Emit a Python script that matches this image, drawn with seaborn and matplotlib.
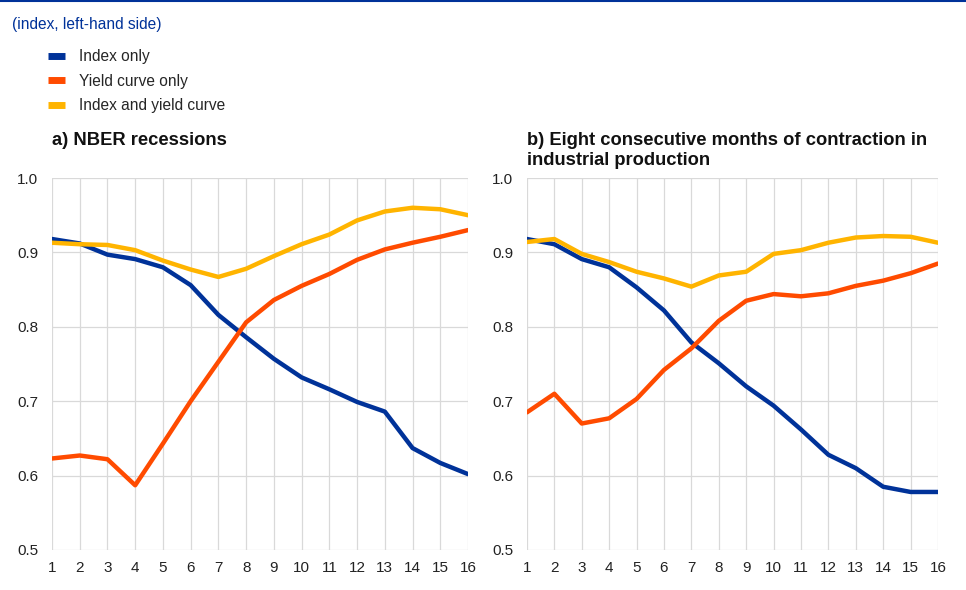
import pandas as pd
import seaborn as sns
from matplotlib import pyplot as plt
from matplotlib.lines import Line2D

''' Données '''
months = list(range(1, 17))
series_names = ["Index only", "Yield curve only", "Index and yield curve"]
colors = ["#003299", "#ff4b00", "#ffb400"]

nber_index = [0.918, 0.912, 0.897, 0.891, 0.880, 0.856, 0.816, 0.786, 0.757, 0.732, 0.716, 0.699, 0.686, 0.637, 0.617, 0.602]
nber_yield = [0.623, 0.627, 0.622, 0.587, 0.643, 0.700, 0.753, 0.806, 0.836, 0.855, 0.871, 0.890, 0.904, 0.913, 0.921, 0.930]
nber_both = [0.913, 0.911, 0.910, 0.903, 0.889, 0.877, 0.867, 0.878, 0.895, 0.911, 0.924, 0.943, 0.955, 0.960, 0.958, 0.950]

ip_index = [0.918, 0.911, 0.891, 0.880, 0.853, 0.822, 0.779, 0.751, 0.720, 0.694, 0.662, 0.628, 0.610, 0.585, 0.578, 0.578]
ip_yield = [0.685, 0.710, 0.670, 0.677, 0.703, 0.742, 0.771, 0.808, 0.835, 0.844, 0.841, 0.845, 0.855, 0.862, 0.872, 0.885]
ip_both = [0.914, 0.918, 0.898, 0.887, 0.874, 0.865, 0.854, 0.869, 0.874, 0.898, 0.903, 0.913, 0.920, 0.922, 0.921, 0.913]

panel_titles = ["a) NBER recessions",
                "b) Eight consecutive months of contraction in\nindustrial production"]
y_ticks = [0.5, 0.6, 0.7, 0.8, 0.9, 1.0]


def long_frame(values):
    rows = []
    for name, vals in zip(series_names, values):
        for m, v in zip(months, vals):
            rows.append({"month": m, "value": v, "series": name})
    return pd.DataFrame(rows)


panels = [long_frame([nber_index, nber_yield, nber_both]),
          long_frame([ip_index, ip_yield, ip_both])]

sns.set_style("white")
plt.rcParams['font.family'] = ['Liberation Sans', 'DejaVu Sans']

fig = plt.figure(figsize=(9.66, 5.90), dpi=100)
ax_left = fig.add_axes([0.0538, 0.0678, 0.4307, 0.6305])
ax_right = fig.add_axes([0.5455, 0.0678, 0.4255, 0.6305])

palette = dict(zip(series_names, colors))

for ax, df, title in zip([ax_left, ax_right], panels, panel_titles):
    sns.lineplot(data=df, x="month", y="value", hue="series", palette=palette,
                 hue_order=series_names, linewidth=3.2, ax=ax, legend=False, zorder=3)
    ax.set_xlim(1, 16)
    ax.set_ylim(0.5, 1.0)
    ax.set_xticks(months)
    ax.set_yticks(y_ticks)
    ax.set_yticklabels([f"{t:.1f}" for t in y_ticks])
    ax.grid(True, color="#d9d9d9", linewidth=0.9)
    for s in ax.spines.values():
        s.set_visible(False)
    ax.tick_params(axis="both", length=0, labelsize=11, colors="#222222")
    ax.tick_params(axis="y", pad=10)
    ax.tick_params(axis="x", pad=8)
    ax.set_xlabel("")
    ax.set_ylabel("")
    # titre ancré par le haut, comme dans l'original
    x0 = ax.get_position().x0
    fig.text(x0, 0.7755, title, fontsize=13.2, fontweight="bold", ha="left", va="top",
             linespacing=1.2, color="#111111")

''' Légende et sous-titre '''
fig.add_artist(Line2D([0, 1], [0.998, 0.998], color="#003299", linewidth=1.5))
fig.text(0.012, 0.958, "(index, left-hand side)", color="#003299", fontsize=11.2, va="center")

handles = [Line2D([], [], color=c, linewidth=5, solid_capstyle="butt") for c in colors]
fig.legend(handles, series_names, loc="upper left", bbox_to_anchor=(0.050, 0.917),
           frameon=False, fontsize=11.2, handlelength=1.1, handletextpad=0.9,
           labelspacing=0.62, borderaxespad=0, borderpad=0)

fig.savefig("out.png", dpi=100)
